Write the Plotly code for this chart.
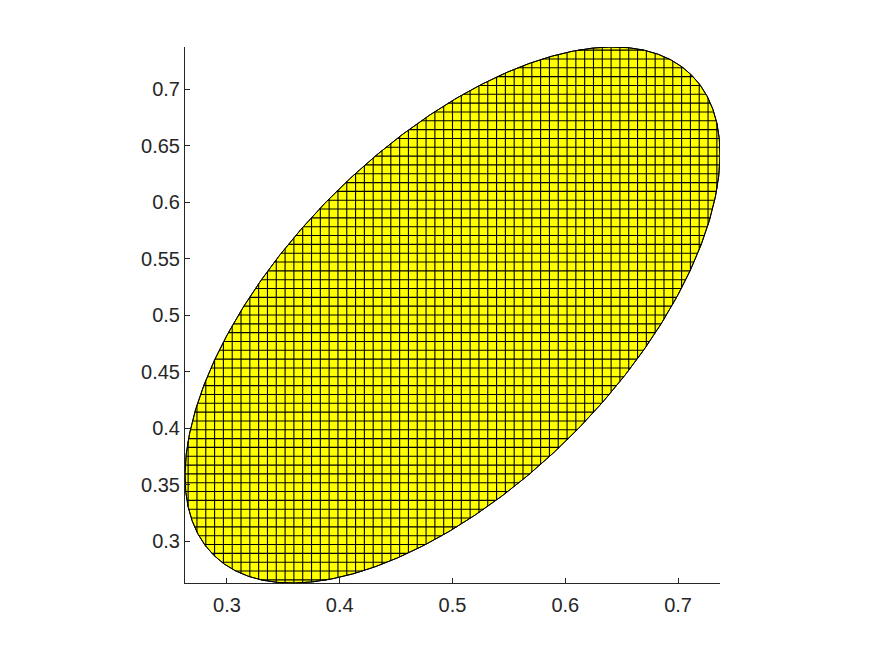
import numpy as np
import plotly.graph_objects as go

# Ellipse parameters
center_x = 0.5
center_y = 0.5
semi_major = 0.30
semi_minor = 0.15
angle_deg = 45.0
grid_step = 1 / 128

x_ticks = [0.3, 0.4, 0.5, 0.6, 0.7]
y_ticks = [0.3, 0.35, 0.4, 0.45, 0.5, 0.55, 0.6, 0.65, 0.7]
x_tick_text = ["0.3", "0.4", "0.5", "0.6", "0.7"]
y_tick_text = ["0.3", "0.35", "0.4", "0.45", "0.5", "0.55", "0.6", "0.65", "0.7"]

th = np.radians(angle_deg)
t = np.linspace(0, 2 * np.pi, 721)
ex = center_x + semi_major * np.cos(t) * np.cos(th) - semi_minor * np.sin(t) * np.sin(th)
ey = center_y + semi_major * np.cos(t) * np.sin(th) + semi_minor * np.sin(t) * np.cos(th)
xmin, xmax = ex.min(), ex.max()
ymin, ymax = ey.min(), ey.max()

# quadratic form of ellipse: [dx dy] M [dx dy]^T = 1
R = np.array([[np.cos(th), -np.sin(th)], [np.sin(th), np.cos(th)]])
D = np.diag([1 / semi_major**2, 1 / semi_minor**2])
M = R @ D @ R.T

def chord_vertical(dx):
    a = M[1, 1]; b = 2 * M[0, 1] * dx; c = M[0, 0] * dx * dx - 1
    disc = b * b - 4 * a * c
    if disc <= 0:
        return None
    s = np.sqrt(disc)
    return (-b - s) / (2 * a), (-b + s) / (2 * a)

def chord_horizontal(dy):
    a = M[0, 0]; b = 2 * M[0, 1] * dy; c = M[1, 1] * dy * dy - 1
    disc = b * b - 4 * a * c
    if disc <= 0:
        return None
    s = np.sqrt(disc)
    return (-b - s) / (2 * a), (-b + s) / (2 * a)

gx, gy = [], []
for k in range(int(np.ceil(xmin / grid_step)), int(np.floor(xmax / grid_step)) + 1):
    xv = k * grid_step
    r = chord_vertical(xv - center_x)
    if r:
        gx += [xv, xv, None]
        gy += [center_y + r[0], center_y + r[1], None]
for k in range(int(np.ceil(ymin / grid_step)), int(np.floor(ymax / grid_step)) + 1):
    yv = k * grid_step
    r = chord_horizontal(yv - center_y)
    if r:
        gx += [center_x + r[0], center_x + r[1], None]
        gy += [yv, yv, None]

fig = go.Figure()
fig.add_trace(go.Scatter(x=ex, y=ey, mode="lines", fill="toself",
                         fillcolor="#ffff00", line=dict(color="black", width=1),
                         hoverinfo="skip", showlegend=False))
fig.add_trace(go.Scatter(x=gx, y=gy, mode="lines", line=dict(color="black", width=1.1),
                         hoverinfo="skip", showlegend=False))
fig.add_trace(go.Scatter(x=ex, y=ey, mode="lines", line=dict(color="black", width=1),
                         hoverinfo="skip", showlegend=False))

axis_common = dict(showgrid=False, zeroline=False, showline=True, linecolor="#262626",
                   linewidth=1, ticks="inside", ticklen=5, tickcolor="#262626",
                   tickfont=dict(family="Liberation Sans, Arial", size=20, color="#262626"),
                   mirror=False)
fig.update_layout(
    width=859, height=640,
    margin=dict(l=177, r=147, t=39, b=65, autoexpand=False),
    paper_bgcolor="white", plot_bgcolor="white",
    xaxis=dict(range=[xmin, xmax], tickvals=x_ticks, ticktext=x_tick_text,
               ticklabelstandoff=4, **axis_common),
    yaxis=dict(range=[ymin, ymax], tickvals=y_ticks, ticktext=y_tick_text, **axis_common),
)
fig.write_html("out.html")
